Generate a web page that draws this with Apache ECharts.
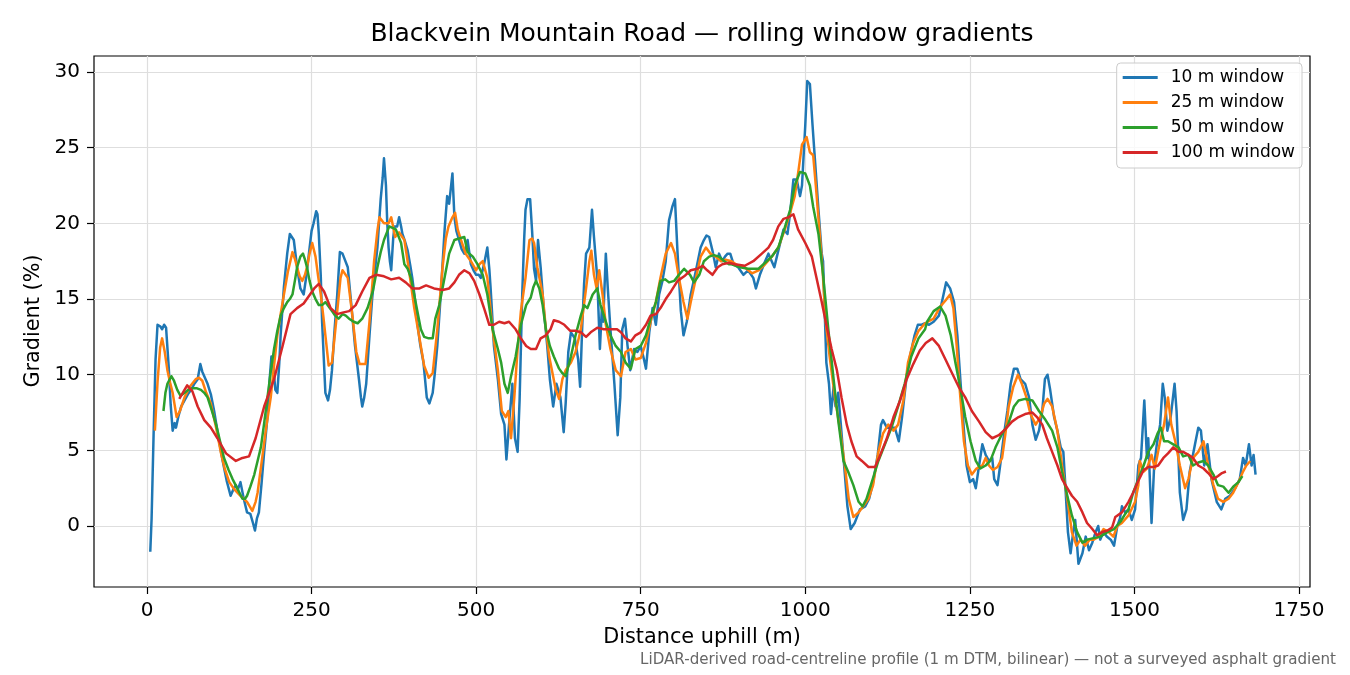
<!DOCTYPE html>
<html>
<head>
<meta charset="UTF-8">
<title>Blackvein Mountain Road — rolling window gradients</title>
<script src="https://cdn.jsdelivr.net/npm/echarts/dist/echarts.min.js"></script>
<style>
    html, body { margin: 0; padding: 0; background: #ffffff; }
    #chart1 { width: 1350px; height: 675px; }
</style>
</head>
<body>
<div id="chart1"></div>
<script type="text/javascript">
// values: [distance m, gradient %]
var w10 = [[5,-1.7],[7,0.5],[10,6],[13,11],[16,13.3],[20,13.2],[23,13.0],[26,13.3],[29,13.1],[33,10.5],[36,8.0],[39,6.3],[42,6.8],[44,6.5],[48,7.3],[52,7.9],[57,8.3],[62,8.7],[67,9.0],[72,9.4],[77,9.7],[81,10.7],[84,10.2],[87,9.9],[92,9.4],[97,8.7],[102,7.6],[108,6.0],[115,4.3],[121,3.0],[127,2.0],[131,2.4],[135,2.7],[138,2.4],[142,2.9],[147,1.8],[152,0.9],[157,0.8],[161,0.2],[164,-0.3],[167,0.5],[170,0.9],[174,2.8],[178,4.9],[183,7.2],[186,9.5],[189,11.2],[192,10.5],[195,9.0],[198,8.8],[201,10.8],[203,12.6],[208,15.8],[213,18.0],[217,19.3],[220,19.3],[223,18.9],[228,17.1],[233,15.7],[238,15.3],[242,16.5],[246,18.0],[250,19.5],[253,20.0],[257,20.8],[259,20.6],[261,19.3],[264,16.5],[266,13.5],[271,8.8],[275,8.3],[278,9.0],[281,10.3],[285,13.0],[289,15.3],[293,18.1],[297,18.0],[300,18.0],[305,17.1],[310,14.8],[316,11.9],[322,9.7],[325,8.5],[327,7.9],[330,8.5],[333,9.4],[338,12.6],[342,15.0],[345,16.4],[350,18.4],[355,21.6],[358,23.0],[360,24.3],[363,22.5],[365,20.0],[367,18.4],[369,17.5],[371,16.9],[374,19.0],[376,19.8],[380,19.8],[383,20.4],[386,19.8],[388,19.3],[392,18.8],[396,18.2],[400,17.2],[403,16.4],[407,15.0],[411,13.3],[415,12.0],[420,10.8],[425,8.5],[429,8.1],[434,8.8],[437,10.0],[441,11.9],[445,14.5],[448,16.6],[452,19.5],[456,21.8],[459,21.3],[462,22.5],[464,23.3],[467,20.4],[470,19.5],[474,18.9],[478,18.3],[482,18.0],[487,18.9],[492,17.3],[496,16.9],[500,16.6],[504,16.6],[507,16.4],[512,17.3],[517,18.4],[520,17.0],[522,15.7],[525,13.5],[527,11.9],[530,10.8],[533,9.7],[538,7.4],[543,6.7],[546,4.4],[550,6.7],[555,9.4],[559,5.8],[563,4.9],[566,8.3],[570,15.3],[573,19.0],[575,20.9],[578,21.6],[582,21.6],[585,19.5],[588,17.0],[591,16.2],[594,18.9],[598,17.1],[603,14.2],[608,11.9],[612,9.7],[617,7.9],[622,9.4],[628,8.5],[633,6.2],[636,8.1],[640,11.5],[644,12.8],[650,12.4],[655,11.0],[658,9.2],[661,13.0],[664,16.0],[667,18.0],[672,18.4],[676,20.9],[679,19.1],[684,16.4],[688,11.7],[691,14.4],[693,13.5],[697,18.0],[700,15.7],[704,13.0],[710,9.4],[715,6.0],[719,8.5],[722,13.0],[726,13.7],[730,11.9],[734,10.3],[740,11.7],[745,11.5],[750,11.9],[755,11.0],[758,10.4],[763,12.8],[768,14.4],[773,13.3],[778,15.3],[783,16.2],[788,17.5],[793,20.2],[798,21.1],[802,21.6],[806,18.0],[811,14.2],[815,12.6],[820,13.5],[826,15.3],[834,16.9],[841,18.4],[846,18.9],[850,19.2],[854,19.1],[859,18.2],[864,17.1],[869,18.0],[874,17.5],[878,17.8],[882,18.0],[886,18.0],[891,17.3],[898,17.1],[906,16.6],[913,16.9],[921,16.4],[925,15.7],[931,16.6],[939,17.5],[944,18.0],[949,17.5],[953,17.1],[959,18.2],[967,19.6],[973,19.3],[977,20.7],[982,22.9],[987,22.9],[992,21.8],[995,22.5],[1000,26.5],[1003,29.4],[1007,29.2],[1011,26.5],[1015,24.0],[1020,20.9],[1025,18.0],[1027,17.5],[1030,13.5],[1032,10.8],[1036,9.4],[1039,7.4],[1043,9.2],[1046,7.9],[1050,8.8],[1054,6.7],[1059,4.0],[1064,1.3],[1069,-0.2],[1075,0.2],[1083,1.1],[1091,1.3],[1097,1.8],[1103,2.9],[1110,4.7],[1115,6.7],[1118,7.0],[1124,6.5],[1131,6.5],[1136,6.5],[1142,5.6],[1147,7.2],[1154,9.9],[1159,11.2],[1166,12.6],[1171,13.3],[1177,13.3],[1182,13.4],[1188,13.3],[1195,13.5],[1203,13.9],[1210,15.3],[1214,16.1],[1220,15.7],[1226,14.8],[1231,12.6],[1236,9.4],[1241,6.3],[1245,4.0],[1250,2.9],[1255,3.1],[1259,2.5],[1264,4.0],[1269,5.4],[1274,4.7],[1279,4.3],[1284,4.5],[1287,3.1],[1292,2.7],[1296,4.0],[1302,6.1],[1307,7.6],[1312,9.4],[1317,10.4],[1322,10.4],[1327,9.7],[1334,9.4],[1340,8.5],[1345,6.7],[1350,5.7],[1355,6.3],[1360,7.6],[1364,9.7],[1368,10.0],[1372,9.0],[1378,7.2],[1383,6.3],[1388,5.2],[1392,4.9],[1395,2.7],[1399,-0.4],[1403,-1.8],[1407,-0.4],[1410,0.4],[1415,-2.5],[1421,-1.8],[1426,-0.7],[1431,-1.6],[1436,-1.1],[1441,-0.4],[1445,0.0],[1448,-0.9],[1453,-0.4],[1458,-0.7],[1464,-0.9],[1469,-1.3],[1474,0.0],[1478,0.5],[1481,1.3],[1486,0.9],[1491,1.1],[1496,0.4],[1501,1.1],[1506,4.0],[1510,4.5],[1515,8.3],[1519,4.5],[1521,5.8],[1526,0.2],[1530,4.0],[1534,5.4],[1539,6.7],[1543,9.4],[1546,8.5],[1550,6.3],[1555,7.2],[1561,9.4],[1564,7.6],[1569,2.2],[1574,0.4],[1579,1.1],[1584,3.6],[1592,5.4],[1597,6.5],[1601,6.3],[1606,4.0],[1611,5.4],[1617,3.1],[1625,1.6],[1632,1.1],[1638,1.8],[1645,2.0],[1653,2.5],[1660,3.1],[1665,4.5],[1669,4.0],[1674,5.4],[1678,4.0],[1681,4.7],[1684,3.4]];

var w25 = [[12,6.3],[16,9.5],[20,11.8],[23,12.4],[27,11.5],[31,10.3],[35,9.5],[39,8.8],[45,7.2],[50,7.6],[57,8.5],[65,9.2],[74,9.7],[79,9.8],[84,9.6],[90,8.8],[97,8.1],[105,6.5],[112,4.9],[118,3.8],[125,2.9],[133,2.4],[142,2.0],[152,1.6],[160,1.0],[165,1.6],[168,2.2],[171,3.2],[175,4.5],[181,6.5],[188,8.5],[193,10.6],[198,12.6],[203,14.0],[208,15.3],[214,16.8],[221,18.1],[225,17.6],[228,17.1],[232,16.5],[236,16.2],[240,16.6],[243,17.1],[247,18.0],[251,18.7],[256,17.8],[260,16.5],[264,15.3],[268,13.8],[271,12.6],[276,10.6],[281,10.8],[285,12.5],[289,14.2],[294,16.4],[297,16.9],[305,16.4],[312,13.9],[318,11.5],[323,10.7],[332,10.7],[338,13.5],[345,17.5],[350,19.5],[353,20.4],[360,20.0],[367,20.0],[371,20.4],[377,19.1],[383,19.4],[391,18.9],[398,16.9],[406,14.4],[414,12.4],[421,10.6],[428,9.8],[434,10.1],[441,13.0],[449,17.1],[454,19.0],[458,19.8],[464,20.4],[468,20.7],[472,19.6],[477,18.9],[484,18.0],[492,17.5],[500,16.9],[505,17.3],[510,17.5],[517,16.4],[525,13.0],[533,10.3],[539,7.6],[545,7.2],[549,7.6],[553,5.8],[558,8.5],[563,11.7],[568,14.2],[575,16.4],[581,18.9],[585,19.0],[588,18.7],[593,17.1],[601,15.3],[606,13.0],[611,11.2],[616,10.1],[621,9.0],[626,8.4],[631,9.7],[636,10.3],[644,10.8],[651,11.5],[659,13.0],[667,15.7],[672,17.5],[675,18.2],[679,16.6],[683,15.7],[687,16.9],[692,15.3],[697,13.3],[704,11.7],[712,10.3],[720,9.9],[727,11.5],[735,11.7],[742,11.0],[750,11.1],[758,12.1],[765,13.5],[773,14.8],[780,16.4],[788,18.0],[796,18.7],[802,18.0],[808,16.4],[815,14.8],[821,13.7],[826,14.8],[834,16.4],[841,17.8],[849,18.4],[856,18.0],[864,17.8],[872,17.5],[879,17.6],[888,17.5],[898,17.2],[908,17.1],[919,16.7],[929,16.9],[939,17.3],[949,17.8],[959,18.4],[969,19.6],[977,20.7],[984,21.8],[990,23.6],[995,25.2],[1002,25.7],[1007,24.7],[1012,24.5],[1016,22.5],[1021,19.8],[1026,17.1],[1031,13.5],[1037,11.2],[1045,8.5],[1053,6.3],[1060,4.0],[1066,1.8],[1073,0.6],[1081,0.9],[1088,1.3],[1096,1.8],[1103,2.7],[1111,4.9],[1118,6.1],[1126,6.7],[1134,6.3],[1141,6.7],[1149,8.3],[1156,10.8],[1164,12.1],[1172,12.9],[1182,13.4],[1185,13.3],[1195,13.7],[1205,14.5],[1213,14.9],[1220,15.3],[1225,14.4],[1230,11.9],[1235,8.8],[1241,5.6],[1247,4.0],[1253,3.4],[1260,3.8],[1269,4.0],[1274,4.5],[1279,4.0],[1285,3.7],[1292,3.9],[1299,4.5],[1304,6.1],[1309,7.9],[1316,9.2],[1323,10.0],[1329,9.4],[1336,8.5],[1342,7.4],[1350,6.7],[1357,7.2],[1363,8.1],[1368,8.4],[1375,7.9],[1383,6.3],[1390,4.0],[1398,1.8],[1405,-0.4],[1412,-1.3],[1418,-0.9],[1425,-1.3],[1432,-0.9],[1438,-0.9],[1446,-0.7],[1453,-0.2],[1461,-0.4],[1468,-0.7],[1474,0.0],[1481,0.2],[1491,0.7],[1501,1.6],[1506,2.7],[1508,4.3],[1514,3.6],[1519,3.8],[1526,4.7],[1531,3.8],[1539,5.6],[1545,6.7],[1551,8.5],[1556,6.7],[1562,5.6],[1569,4.0],[1577,2.5],[1582,3.1],[1589,4.5],[1597,4.9],[1605,5.6],[1612,4.0],[1620,2.7],[1627,1.8],[1635,1.6],[1643,1.8],[1650,2.2],[1658,2.9],[1665,3.6],[1670,4.0],[1676,4.3]];

var w50 = [[25,7.6],[28,8.8],[31,9.4],[37,9.9],[41,9.6],[46,9.0],[51,8.6],[57,8.8],[63,9.0],[69,9.1],[76,9.1],[82,9.0],[87,8.8],[92,8.5],[98,7.7],[105,6.7],[111,5.6],[117,4.5],[124,3.7],[130,3.1],[137,2.5],[145,1.8],[149,1.8],[152,2.0],[157,2.6],[163,3.4],[168,4.3],[173,5.2],[178,6.8],[183,8.5],[188,10.2],[193,11.7],[198,12.9],[203,13.9],[208,14.4],[213,14.8],[217,15.0],[221,15.3],[225,16.3],[228,17.1],[233,17.8],[237,18.0],[240,17.6],[243,17.1],[247,16.2],[251,15.5],[256,15.0],[261,14.6],[266,14.6],[271,14.8],[276,14.5],[281,14.2],[286,13.9],[291,13.7],[297,14.0],[302,13.9],[307,13.7],[314,13.5],[320,13.4],[327,13.7],[335,14.4],[343,15.5],[350,17.1],[355,18.1],[360,18.9],[368,19.8],[373,19.7],[378,19.6],[386,18.7],[391,17.3],[396,17.0],[401,16.4],[408,14.8],[416,13.0],[421,12.5],[428,12.4],[434,12.4],[438,13.7],[444,14.6],[452,16.4],[459,18.0],[467,18.9],[474,19.0],[482,19.1],[487,18.1],[495,17.8],[502,17.3],[510,16.6],[517,15.3],[525,13.0],[533,11.7],[538,10.8],[543,9.4],[548,8.8],[553,9.9],[560,11.2],[568,13.3],[576,14.6],[583,15.1],[587,15.8],[591,16.2],[596,15.7],[601,14.6],[606,13.0],[612,11.9],[618,11.2],[626,10.4],[631,10.1],[636,9.9],[644,11.2],[651,12.6],[659,13.9],[664,14.6],[669,14.4],[677,15.3],[684,15.7],[689,14.6],[697,13.5],[704,12.6],[712,11.9],[720,11.5],[727,10.8],[735,10.4],[742,11.7],[750,11.9],[758,12.6],[765,13.7],[773,14.8],[780,16.2],[787,16.3],[793,16.1],[801,16.2],[808,16.6],[816,17.0],[825,16.6],[831,16.1],[839,16.6],[846,17.5],[854,17.8],[861,17.9],[869,17.8],[877,17.5],[884,17.3],[888,17.3],[901,17.1],[913,17.0],[929,17.0],[939,17.4],[949,17.8],[959,18.4],[968,19.6],[977,20.9],[984,22.5],[992,23.4],[1000,23.3],[1007,22.5],[1012,21.1],[1020,19.3],[1027,16.6],[1035,13.0],[1043,9.7],[1050,7.0],[1058,4.3],[1065,3.6],[1073,2.7],[1081,1.6],[1087,1.3],[1093,1.8],[1101,2.9],[1111,4.3],[1121,5.4],[1131,6.5],[1141,7.9],[1151,9.4],[1161,11.2],[1172,12.4],[1182,13.0],[1185,13.5],[1195,14.2],[1205,14.5],[1213,13.9],[1221,12.6],[1228,10.8],[1236,9.0],[1243,7.2],[1251,5.6],[1259,4.3],[1266,3.8],[1274,4.0],[1281,4.3],[1289,5.2],[1299,6.1],[1308,6.7],[1317,7.9],[1324,8.3],[1334,8.4],[1345,8.3],[1355,7.6],[1365,7.0],[1375,6.3],[1383,5.2],[1390,3.6],[1398,2.0],[1405,0.7],[1413,-0.4],[1421,-1.1],[1428,-0.9],[1438,-0.8],[1448,-0.7],[1459,-0.4],[1469,-0.2],[1479,0.3],[1486,0.8],[1491,1.1],[1498,2.2],[1506,3.1],[1514,4.0],[1521,4.9],[1529,5.4],[1535,6.1],[1540,6.5],[1545,5.6],[1551,5.6],[1559,5.4],[1567,5.2],[1574,4.6],[1582,4.7],[1589,4.0],[1597,4.2],[1605,4.3],[1612,4.0],[1620,3.4],[1627,2.7],[1635,2.6],[1643,2.2],[1650,2.6],[1658,2.9],[1664,3.3]];

var w100 = [[49,8.4],[61,9.3],[69,8.9],[77,7.9],[87,7.0],[97,6.5],[107,5.8],[120,4.8],[135,4.3],[145,4.5],[155,4.6],[165,5.8],[178,7.9],[193,9.7],[206,11.9],[218,14.0],[228,14.4],[238,14.7],[246,15.2],[254,15.7],[261,16.0],[269,15.5],[279,14.4],[289,14.0],[297,14.1],[307,14.2],[317,14.6],[327,15.5],[338,16.4],[348,16.6],[360,16.5],[371,16.3],[383,16.4],[393,16.1],[403,15.7],[414,15.7],[424,15.9],[436,15.7],[449,15.6],[459,15.7],[467,16.1],[474,16.6],[482,16.9],[490,16.7],[497,16.2],[505,15.3],[512,14.4],[520,13.3],[527,13.3],[535,13.5],[543,13.4],[550,13.5],[560,13.0],[568,12.4],[576,11.9],[583,11.7],[591,11.7],[598,12.4],[606,12.6],[613,13.0],[618,13.6],[626,13.5],[634,13.3],[643,12.9],[651,12.9],[659,12.8],[667,12.5],[674,12.8],[684,13.1],[694,13.0],[704,13.0],[714,13.0],[720,12.8],[727,12.4],[735,12.2],[742,12.6],[750,12.8],[758,13.3],[765,13.9],[773,14.0],[780,14.4],[788,15.0],[796,15.5],[806,16.2],[816,16.5],[826,16.9],[836,17.0],[844,17.2],[851,16.9],[859,16.6],[867,17.1],[874,17.3],[884,17.4],[893,17.3],[908,17.2],[921,17.5],[934,18.0],[944,18.4],[951,18.9],[959,19.8],[967,20.3],[974,20.4],[982,20.6],[989,19.6],[1000,18.7],[1010,17.8],[1017,16.4],[1025,14.8],[1032,13.3],[1040,11.7],[1048,10.3],[1055,8.5],[1063,6.7],[1070,5.6],[1078,4.6],[1086,4.3],[1096,3.9],[1106,3.9],[1113,4.6],[1124,5.8],[1134,7.2],[1144,8.3],[1154,9.7],[1164,10.7],[1174,11.6],[1183,12.1],[1193,12.4],[1203,11.9],[1213,11.0],[1223,10.1],[1233,9.2],[1243,8.5],[1253,7.6],[1264,6.9],[1274,6.2],[1284,5.8],[1294,6.0],[1304,6.4],[1314,6.9],[1324,7.2],[1334,7.4],[1345,7.5],[1352,7.2],[1360,6.7],[1367,5.8],[1375,4.9],[1383,4.0],[1390,3.1],[1398,2.5],[1405,2.0],[1413,1.6],[1421,0.9],[1428,0.2],[1436,-0.2],[1443,-0.6],[1451,-0.4],[1459,-0.3],[1466,-0.1],[1471,0.6],[1481,0.9],[1491,1.6],[1498,2.2],[1506,3.0],[1514,3.7],[1521,3.9],[1529,3.9],[1536,4.0],[1544,4.5],[1551,4.8],[1559,5.2],[1567,4.9],[1574,4.9],[1582,4.7],[1589,4.5],[1597,4.0],[1605,3.8],[1612,3.5],[1620,3.1],[1627,3.3],[1633,3.5],[1639,3.6]];

var seriesNames = ['10 m window', '25 m window', '50 m window', '100 m window'];
var colors = ['#1f77b4', '#ff7f0e', '#2ca02c', '#d62728'];
var xTicks = [0, 250, 500, 750, 1000, 1250, 1500, 1750];
var yTicks = [0, 5, 10, 15, 20, 25, 30];

var font = 'DejaVu Sans';
var chart1 = echarts.init(document.getElementById('chart1'));

var series = [w10, w25, w50, w100].map(function (d, i) {
    return {
        name: seriesNames[i],
        type: 'line',
        data: d,
        showSymbol: false,
        symbol: 'none',
        color: colors[i],
        lineStyle: { width: 2.5, color: colors[i], join: 'round' },
        animation: false
    };
});

// plain numbers on the ticks, no thousands separator
var plain = function (v) { return String(v); };

var option = {
    backgroundColor: '#ffffff',
    animation: false,
    grid: {
        left: 94, right: 40, top: 56, bottom: 88,
        show: true, borderColor: '#000000', borderWidth: 1.2,
        backgroundColor: 'transparent'
    },
    legend: {
        data: seriesNames,
        orient: 'vertical',
        right: 48,
        top: 63,
        icon: 'rect',
        itemWidth: 35,
        itemHeight: 3,
        itemGap: 8,
        padding: [6, 7, 7, 6],
        backgroundColor: 'rgba(255,255,255,0.8)',
        borderColor: '#cccccc',
        borderWidth: 1,
        borderRadius: 4,
        textStyle: { fontFamily: font, fontSize: 17, color: '#000000', lineHeight: 17, padding: [0, 0, 0, 8] }
    },
    xAxis: {
        type: 'value',
        min: -80.5,
        max: 1766.7,
        axisLine: { show: false, onZero: false },
        axisTick: { show: true, length: 7, customValues: xTicks, lineStyle: { color: '#000000', width: 1.2 } },
        axisLabel: { customValues: xTicks, formatter: plain, color: '#000000', fontFamily: font, fontSize: 20, margin: 14 },
        splitLine: { show: true, lineStyle: { color: '#dedede', width: 1.2 } }
    },
    yAxis: {
        type: 'value',
        min: -4.03,
        max: 31.06,
        axisLine: { show: false, onZero: false },
        axisTick: { show: true, length: 7, customValues: yTicks, lineStyle: { color: '#000000', width: 1.2 } },
        axisLabel: { customValues: yTicks, formatter: plain, color: '#000000', fontFamily: font, fontSize: 20, margin: 14 },
        splitLine: { show: true, lineStyle: { color: '#dedede', width: 1.2 } }
    },
    graphic: [
        { type: 'text', x: 702, y: 34, style: { text: 'Blackvein Mountain Road — rolling window gradients', textAlign: 'center', textVerticalAlign: 'middle', fontFamily: font, fontSize: 25, fill: '#000000' } },
        { type: 'text', x: 702, y: 638, style: { text: 'Distance uphill (m)', textAlign: 'center', textVerticalAlign: 'middle', fontFamily: font, fontSize: 20.8, fill: '#000000' } },
        { type: 'text', x: 34, y: 321, rotation: Math.PI / 2, style: { text: 'Gradient (%)', textAlign: 'center', textVerticalAlign: 'middle', fontFamily: font, fontSize: 20.8, fill: '#000000' } },
        { type: 'text', x: 1336, y: 660, style: { text: 'LiDAR-derived road-centreline profile (1 m DTM, bilinear) — not a surveyed asphalt gradient', textAlign: 'right', textVerticalAlign: 'middle', fontFamily: font, fontSize: 15.1, fill: '#666666' } }
    ],
    series: series
};

chart1.setOption(option);
</script>
</body>
</html>
